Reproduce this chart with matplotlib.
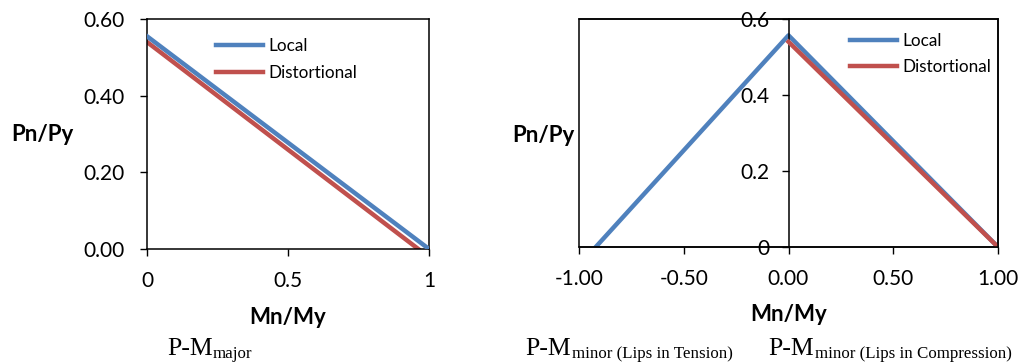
import matplotlib
matplotlib.use("Agg")
import matplotlib.pyplot as plt

# P-M interaction curves (normalised)
major_local_x = [0.0, 1.0]
major_local_y = [0.555, 0.0]
major_dist_x = [0.0, 0.962]
major_dist_y = [0.540, 0.0]

minor_local_x = [-0.92, 0.0, 1.0]
minor_local_y = [0.0, 0.557, 0.0]
minor_dist_x = [0.0, 1.0]
minor_dist_y = [0.540, 0.0]

major_xticks = [0, 0.5, 1]
major_xlabels = ["0", "0.5", "1"]
major_yticks = [0.0, 0.2, 0.4, 0.6]
major_ylabels = ["0.00", "0.20", "0.40", "0.60"]

minor_xticks = [-1.0, -0.5, 0.0, 0.5, 1.0]
minor_xlabels = ["-1.00", "-0.50", "0.00", "0.50", "1.00"]
minor_yticks = [0.0, 0.2, 0.4, 0.6]
minor_ylabels = ["0", "0.2", "0.4", "0.6"]

BLUE = "#4F81BD"
RED = "#C0504D"

plt.rcParams["font.family"] = ["Lato", "DejaVu Sans"]

W, H = 1033, 364
fig = plt.figure(figsize=(W / 100, H / 100), dpi=100)

TICK_FS = 15
LABEL_FS = 16
LEG_FS = 12.3


def px_axes(left, top, right, bottom):
    return fig.add_axes([left / W, 1 - bottom / H, (right - left) / W, (bottom - top) / H])


def style_legend(ax, x, y):
    ax.legend(loc="upper left", bbox_to_anchor=(x, y), frameon=False,
              fontsize=LEG_FS, handlelength=2.75, handletextpad=0.3,
              labelspacing=0.63, borderpad=0, borderaxespad=0)


# left: major axis bending
ax1 = px_axes(147, 19, 429, 249)
ax1.plot(major_local_x, major_local_y, color=BLUE, lw=3.2, label="Local", zorder=3)
ax1.plot(major_dist_x, major_dist_y, color=RED, lw=3.2, label="Distortional", zorder=2)
ax1.set_xlim(0, 1)
ax1.set_ylim(0, 0.6)
ax1.set_xticks(major_xticks, major_xlabels)
ax1.set_yticks(major_yticks, major_ylabels)
ax1.tick_params(axis="both", direction="out", length=5, width=1, labelsize=TICK_FS, pad=11)
ax1.tick_params(axis="x", pad=11)
for s in ax1.spines.values():
    s.set_linewidth(1.1)
ax1.set_ylabel("Pn/Py", rotation=0, fontsize=LABEL_FS, fontweight="bold", ha="center", va="center")
ax1.yaxis.set_label_coords(-0.372, 0.496)
ax1.set_xlabel("Mn/My", fontsize=LABEL_FS, fontweight="bold", ha="center", va="center")
ax1.xaxis.set_label_coords(0.5, -0.30)
style_legend(ax1, 0.245, 0.918)

# right: minor axis bending, y axis through zero
ax2 = px_axes(579, 19, 998, 247)
ax2.plot(minor_local_x, minor_local_y, color=BLUE, lw=3.2, label="Local", zorder=2)
ax2.plot(minor_dist_x, minor_dist_y, color=RED, lw=3.2, label="Distortional", zorder=3)
ax2.set_xlim(-1, 1)
ax2.set_ylim(0, 0.6)
ax2.set_xticks(minor_xticks, minor_xlabels)
ax2.set_yticks(minor_yticks, minor_ylabels)
ax2.spines["left"].set_position(("data", 0))
for s in ax2.spines.values():
    s.set_linewidth(1.1)
ax2.add_patch(plt.Rectangle((0, 0), 1, 1, transform=ax2.transAxes, fill=False,
                            lw=1.1, edgecolor="black", clip_on=False, zorder=5))
ax2.tick_params(axis="both", direction="out", length=5, width=1, labelsize=TICK_FS)
ax2.tick_params(axis="y", pad=9)
ax2.tick_params(axis="x", pad=11)
ax2.set_ylabel("Pn/Py", rotation=0, fontsize=LABEL_FS, fontweight="bold", ha="center", va="center")
ax2.yaxis.set_label_coords(-0.086, 0.49)
ax2.set_xlabel("Mn/My", fontsize=LABEL_FS, fontweight="bold", ha="center", va="center")
ax2.xaxis.set_label_coords(0.5, -0.298)
style_legend(ax2, 0.647, 0.94)


# captions under the panels: large "P-M" followed by a smaller subscript
def caption(x_main, x_sub, sub):
    fig.text(x_main / W, 1 - 355 / H, "P-M", fontsize=18.5,
             family="Liberation Serif", va="baseline")
    fig.text(x_sub / W, 1 - 358 / H, sub, fontsize=12.2,
             family="Liberation Serif", va="baseline")


caption(167, 213, "major")
caption(525, 572, "minor (Lips in Tension)")
caption(768, 815, "minor (Lips in Compression)")

fig.savefig("out.png", dpi=100)
